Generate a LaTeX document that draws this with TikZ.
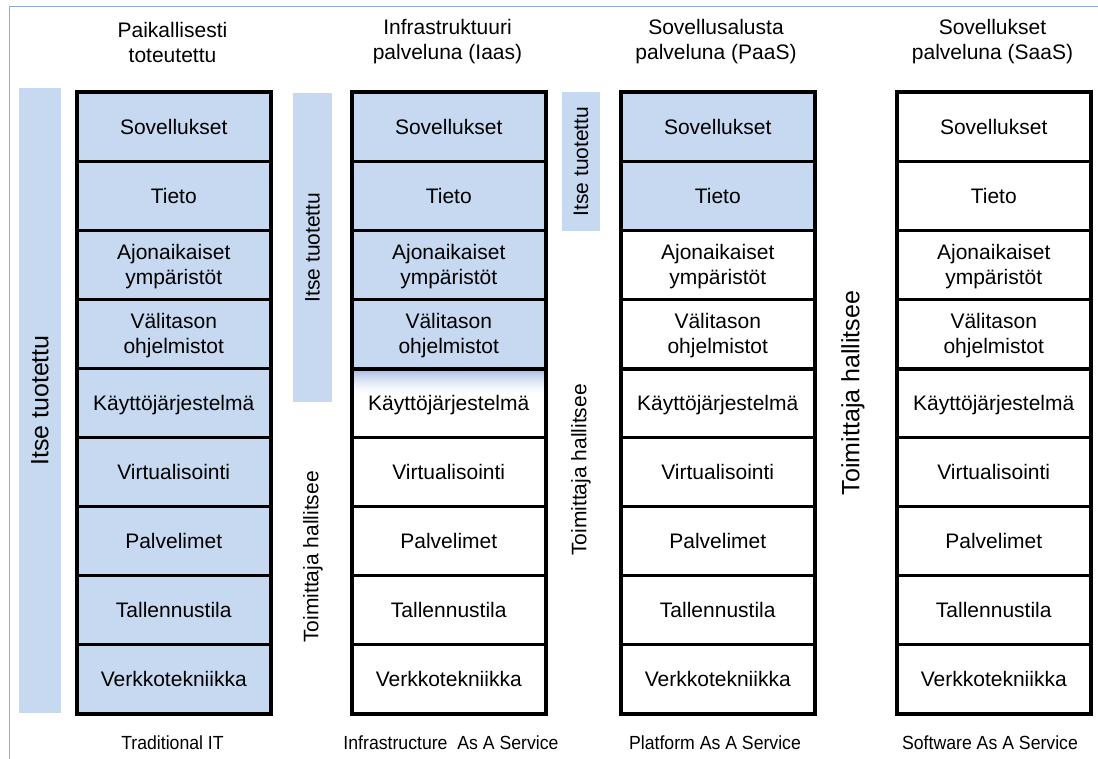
\documentclass[tikz,border=0pt]{standalone}
\usepackage{fontspec}
\setmainfont{Liberation Sans}
\usetikzlibrary{calc}
\definecolor{cblue}{HTML}{C6D9F1}
\definecolor{cgrad}{HTML}{9FB7E1}
\definecolor{cframe}{HTML}{8EAADB}
\begin{document}
\begin{tikzpicture}[x=1pt,y=-1pt,
  txt/.style={font=\fontsize{21}{25}\selectfont,align=center,inner sep=0pt},
  layerbox/.style={txt,draw=black,line width=2.5pt,minimum width=193pt,
    minimum height=69pt,anchor=north west,text depth=0pt},
  stackframe/.style={draw=black,line width=3pt},
  bar/.style={fill=cblue,inner sep=0pt,rotate=90},
  bigside/.style={font=\fontsize{25}{28}\selectfont,inner sep=0pt,rotate=90},
  side/.style={font=\fontsize{21}{24}\selectfont,inner sep=0pt,rotate=90},
  foot/.style={font=\fontsize{19}{22}\selectfont,inner sep=0pt}]
\useasboundingbox (0,0) rectangle (1098,758);

% outer frame
\draw[cframe,line width=1.5pt] (1110,6.5) -| (9.5,770);

% side bars with their labels
\node[bar,font=\fontsize{25}{28}\selectfont,minimum width=625pt,minimum height=42pt]
  (selfA) at (40,400.5) {Itse tuotettu};
\node[bar,font=\fontsize{21}{24}\selectfont,minimum width=309pt,minimum height=39pt]
  (selfB) at (312.5,247.5) {Itse tuotettu};
\node[bar,font=\fontsize{21}{24}\selectfont,minimum width=139pt,minimum height=38pt]
  (selfC) at (581,161.5) {Itse tuotettu};

\node[side] (provB) at (313,557) {Toimittaja hallitsee};
\node[side] (provC) at (581,470) {Toimittaja hallitsee};
\node[bigside] (provD) at (853,393) {Toimittaja hallitsee};

% column headings
\node[txt] (headA) at (172.5,42) {Paikallisesti\\toteutettu};
\node[txt] (headB) at (447.5,42) {Infrastruktuuri\\palveluna (Iaas)};
\node[txt] (headC) at (716,42) {Sovellusalusta\\palveluna (PaaS)};
\node[txt] (headD) at (992.5,42) {Sovellukset\\palveluna (SaaS)};

% layer stacks
\foreach \col/\x/\nb in {a/76/9,b/351/4,c/620/2,d/896/0}{
  \foreach \t [count=\i] in {Sovellukset,Tieto,{Ajonaikaiset\\ympäristöt},
      {Välitason\\ohjelmistot},Käyttöjärjestelmä,Virtualisointi,Palvelimet,
      Tallennustila,Verkkotekniikka}{
    \ifnum\i>\nb \def\fc{white}\else\def\fc{cblue}\fi
    \node[layerbox,fill=\fc] (\col\i) at (\x,{91+69*(\i-1)}) {\t};
  }
}

% operating system layer fading out under the self-made part:
% thin strips going from blue at the top edge to white further down
\node[layerbox,fill=white,
  path picture={
    \foreach \k in {0,...,26}{
      \pgfmathsetmacro\p{100*(1-\k/27)^1.6}
      \fill[cgrad!\p!white]
        ($(path picture bounding box.north west)+(0,\k)$) rectangle
        ($(path picture bounding box.north east)+(0,\k+1.2)$);
    }}]
  (b5s) at (351,367) {Käyttöjärjestelmä};

% heavier boundary lines and stack outlines
\foreach \col in {b,c,d}{
  \draw[line width=3.5pt] (\col4.south west) -- (\col4.south east);
}
\foreach \col in {a,b,c,d}{
  \draw[stackframe] (\col1.north west) rectangle (\col9.south east);
}

% service model names
\node[foot] (footA) at (172.5,743) {\scalebox{0.93}[1]{Traditional IT}};
\node[foot] (footB) at (451,743) {\scalebox{0.93}[1]{Infrastructure\ \ As A Service}};
\node[foot] (footC) at (715,743) {\scalebox{0.93}[1]{Platform As A Service}};
\node[foot] (footD) at (990,743) {\scalebox{0.93}[1]{Software As A Service}};
\end{tikzpicture}
\end{document}
